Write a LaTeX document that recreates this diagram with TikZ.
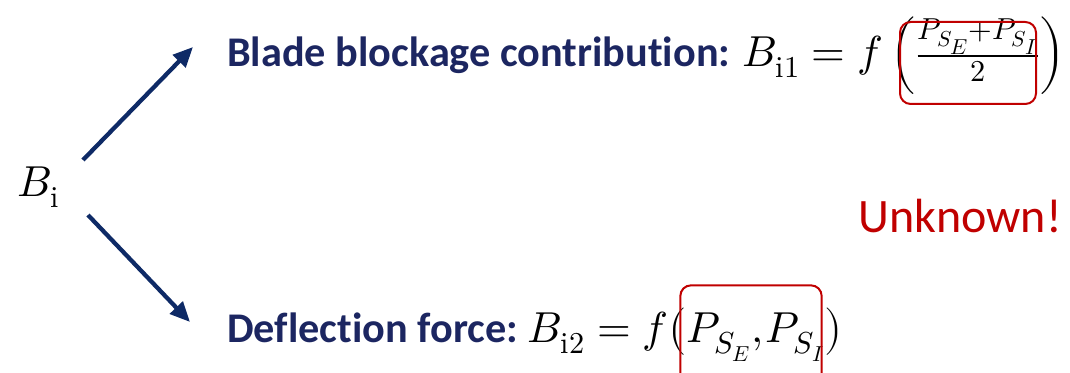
\documentclass[tikz,border=0pt]{standalone}
\usepackage{amsmath}
\usepackage{unicode-math}
\setmainfont{Carlito}[Ligatures=NoCommon]
\setmathfont{Latin Modern Math}
\usetikzlibrary{arrows.meta,positioning}

\definecolor{navy}{HTML}{0E2A66}
\definecolor{labblue}{HTML}{1C2661}
\definecolor{unkred}{HTML}{C00000}

\begin{document}
\begin{tikzpicture}[x=0.75pt,y=-0.75pt,
  lbl/.style={anchor=base west,inner sep=0pt,font=\fontsize{31.7}{36}\selectfont\bfseries,text=labblue},
  eqn/.style={anchor=base west,inner sep=0pt,font=\fontsize{32.5}{38}\selectfont},
  redbox/.style={draw=unkred,line width=1.5pt,rounded corners=8pt,inner sep=0pt},
  sig/.style={-{Triangle[length=15pt,width=13pt]},draw=navy,line width=3.2pt}]
\useasboundingbox (0,0) rectangle (1070,373);

% source
\node[eqn,anchor=base west] (bi) at (17,197) {$B_{\symup{i}}$};

% row 1 -- blockage
\node[lbl] (blk) at (227,67) {Blade blockage contribution:};
\node[eqn,right=9pt of blk.base east,anchor=base west] (blkeq)
  {$B_{\symup{i}1} = f\left(\frac{P_{S_E}+P_{S_I}}{2}\right)$};

% row 2 -- deflection
\node[lbl] (dfl) at (227,343) {Deflection force:};
\node[eqn,right=7pt of dfl.base east,anchor=base west] (dfleq)
  {$B_{\symup{i}2} = f\bigl(P_{S_E},\mkern-2mu P_{S_I}\bigr)$};

% unknown terms
\node[redbox,minimum width=102pt,minimum height=61.5pt] (unk1) at (968,63) {};
\node[redbox,minimum width=106pt,minimum height=79pt] (unk2) at (751,338) {};
\node[anchor=base east,inner sep=0pt,font=\fontsize{36}{42}\selectfont,text=unkred]
  (unk) at (1062,233) {Unknown!};

\coordinate (s1) at (83,160);
\coordinate (e1) at (193,47);
\coordinate (s2) at (88,215);
\coordinate (e2) at (190,322);
\draw[sig] (s1) -- (e1);
\draw[sig] (s2) -- (e2);

\end{tikzpicture}
\end{document}
